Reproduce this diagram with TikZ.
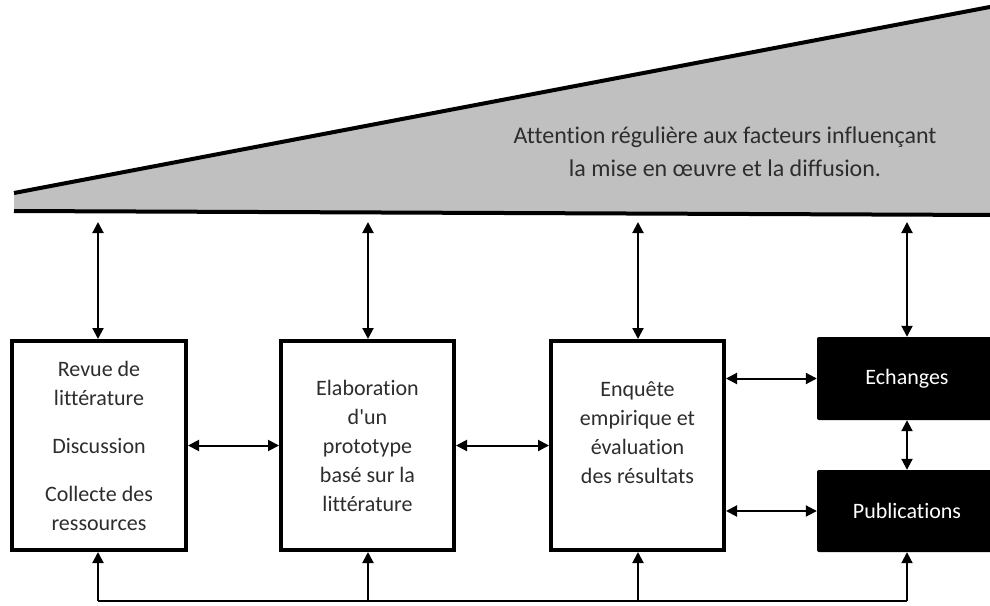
\documentclass[tikz,border=0pt]{standalone}
\usepackage{fontspec}
\newfontfamily\cfont{Carlito}[Ligatures=NoCommon]
\usetikzlibrary{arrows.meta}
\definecolor{wedgegray}{RGB}{192,192,192}
\definecolor{txtgray}{RGB}{45,45,45}
\tikzset{
  whitebox/.style={draw=black, line width=4pt, fill=white, minimum width=173pt, minimum height=209pt,
    align=center, text=txtgray, font=\cfont\fontsize{22}{29}\selectfont, inner sep=0pt},
  blackbox/.style={fill=black, rounded corners=2pt, minimum width=180pt, align=center,
    text=white, font=\cfont\fontsize{22}{29}\selectfont, inner sep=0pt},
  conn/.style={line width=2pt, {Triangle[length=11pt,width=11pt]}-{Triangle[length=11pt,width=11pt]}},
  upconn/.style={line width=2pt, -{Triangle[length=11pt,width=11pt]}},
  plain/.style={line width=2pt},
  wedgeline/.style={line width=4pt, line cap=butt}
}
\begin{document}
\begin{tikzpicture}[x=1pt, y=-1pt]
\useasboundingbox (0,0) rectangle (990,605);
% wedge
\fill[wedgegray] (14,193) -- (995,6) -- (995,215) -- (14,211) -- cycle;
\draw[wedgeline] (14,193) -- (995,6);
\draw[wedgeline] (14,211) -- (995,215);
\node[align=center, text=txtgray, font=\cfont\fontsize{24}{33}\selectfont] (wtext) at (725,152)
  {Attention régulière aux facteurs influençant\\la mise en œuvre et la diffusion.};
% boxes
\node[whitebox, minimum width=174pt] (box1) at (99,445.5)
  {Revue de\\littérature\\[19pt]Discussion\\[19pt]Collecte des\\ressources};
\node[whitebox] (box2) at (367.5,445.5)
  {Elaboration\\d'un\\prototype\\basé sur la\\littérature};
\node[whitebox] (box3) at (637.5,445.5) {};
\node[align=center, text=txtgray, font=\cfont\fontsize{22}{29}\selectfont, inner sep=0pt] (box3txt) at (637.5,433)
  {Enquête\\empirique et\\évaluation\\des résultats};
\node[blackbox, minimum height=83pt] (ech) at (907,378.5) {Echanges};
\node[blackbox, minimum height=82pt] (pub) at (907,511) {Publications};
% top connectors
\coordinate (t1) at (98,222);
\coordinate (t2) at (368,222);
\coordinate (t3) at (638,222);
\coordinate (t4) at (907,222);
\draw[conn] (t1) -- (t1 |- box1.north);
\draw[conn] (t2) -- (t2 |- box2.north);
\draw[conn] (t3) -- (t3 |- box3.north);
\draw[conn] (t4) -- (t4 |- ech.north);
% horizontal connectors
\draw[conn] (box1.east) -- (box2.west);
\draw[conn] (box2.east) -- (box3.west);
\draw[conn] (box3.east |- ech.center) -- (ech.west);
\draw[conn] (box3.east |- pub.center) -- (pub.west);
\draw[conn] (ech.south) -- (pub.north);
% bottom feedback
\coordinate (b1) at (98,601);
\coordinate (b2) at (368,601);
\coordinate (b3) at (638,601);
\coordinate (b4) at (907,601);
\draw[plain] (b1) -- (b4);
\draw[upconn] (b1) -- (b1 |- box1.south);
\draw[upconn] (b2) -- (b2 |- box2.south);
\draw[upconn] (b3) -- (b3 |- box3.south);
\draw[upconn] (b4) -- (b4 |- pub.south);
\end{tikzpicture}
\end{document}
